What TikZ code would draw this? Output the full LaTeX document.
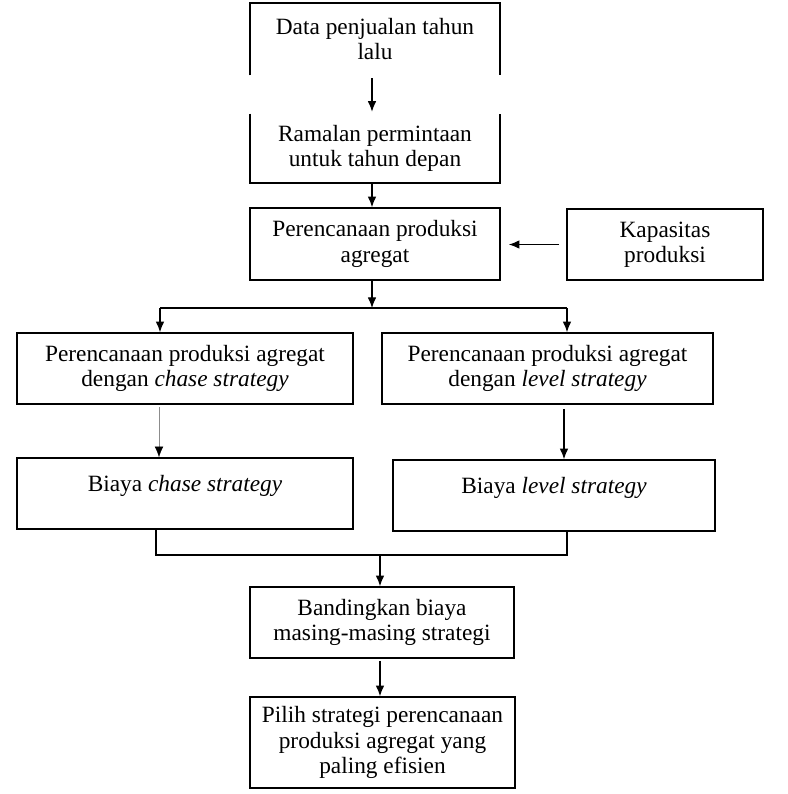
\documentclass[tikz,border=0pt]{standalone}
\usepackage{fontspec}
\setmainfont{Liberation Serif}
\usetikzlibrary{arrows.meta}
\begin{document}
\begin{tikzpicture}[x=0.75pt,y=-0.75pt,
  box/.style={rectangle, draw, line width=1.2pt, inner sep=0pt, align=center,
    font=\fontsize{17.5}{19}\selectfont},
  openbox/.style={rectangle, inner sep=0pt, align=center,
    font=\fontsize{17.5}{19}\selectfont},
  arr/.style={line width=0.9pt, -{Latex[length=8pt,width=6.5pt]}},
  faintarr/.style={line width=0.4pt, draw=black!45, -{Latex[length=8pt,width=6.5pt,fill=black,color=black]}},
  link/.style={line width=0.9pt}]
\useasboundingbox (0,0) rectangle (788,794);
% nodes
\node[openbox, minimum width=187.5pt, minimum height=54pt] (b1) at (375,39) {Data penjualan tahun\\lalu};
\node[openbox, minimum width=187.5pt, minimum height=51.75pt] (b2) at (375,148.5) {Ramalan permintaan\\untuk tahun depan};
\node[box, minimum width=187.5pt, minimum height=54pt] (b3) at (375,244) {Perencanaan produksi\\agregat};
\node[box, minimum width=147pt, minimum height=53.25pt] (kap) at (665,244.5) {Kapasitas\\produksi};
\node[box, minimum width=252pt, minimum height=53.25pt] (lp) at (185,368.5) {Perencanaan produksi agregat\\dengan \textit{chase strategy}};
\node[box, minimum width=248.25pt, minimum height=53.25pt] (rp) at (547.5,368.5) {Perencanaan produksi agregat\\dengan \textit{level strategy}};
\node[box, minimum width=252pt, minimum height=53.25pt] (lc) at (185,493.5) {\raisebox{5.5pt}[\height][\depth]{Biaya \textit{chase strategy}}};
\node[box, minimum width=241.5pt, minimum height=53.25pt] (rc) at (554,495.5) {\raisebox{5.5pt}[\height][\depth]{Biaya \textit{level strategy}}};
\node[box, minimum width=198pt, minimum height=53.25pt] (bd) at (382,622.5) {Bandingkan biaya\\masing-masing strategi};
\node[box, minimum width=198.75pt, minimum height=68.25pt] (pl) at (382.5,742.5) {Pilih strategi perencanaan\\produksi agregat yang\\paling efisien};
% open borders of the first two boxes
\draw[line width=1.2pt] (b1.south west) -- (b1.north west) -- (b1.north east) -- (b1.south east);
\draw[line width=1.2pt] (b2.north west) -- (b2.south west) -- (b2.south east) -- (b2.north east);
% junction coordinates
\coordinate (j1) at (372,308);
\coordinate (jl) at (160,308);
\coordinate (jr) at (567,308);
\coordinate (jb) at (380,555);
% connectors
\draw[arr, shorten <=2.25pt, shorten >=1.5pt] (b1.south -| j1) -- (b2.north -| j1);
\draw[arr] (b2.south -| j1) -- (b3.north -| j1);
\draw[arr, shorten <=5.25pt, shorten >=6pt] (kap.west) -- (b3.east |- kap.west);
\draw[arr] (b3.south -| j1) -- (j1);
\draw[link] (jl) -- (jr);
\draw[arr] (jl) -- (jl |- lp.north);
\draw[arr] (jr) -- (jr |- rp.north);
\draw[faintarr, shorten <=1.5pt] (lp.south -| 159,0) -- (lc.north -| 159,0);
\draw[arr, shorten <=3pt] (rp.south -| 564,0) -- (rc.north -| 564,0);
\draw[link] (lc.south -| 156,0) -- (156,555) -- (jb);
\draw[link] (rc.south -| 567,0) -- (567,555) -- (jb);
\draw[arr] (jb) -- (jb |- bd.north);
\draw[arr, shorten <=1.5pt] (bd.south -| jb) -- (jb |- pl.north);
\end{tikzpicture}
\end{document}
